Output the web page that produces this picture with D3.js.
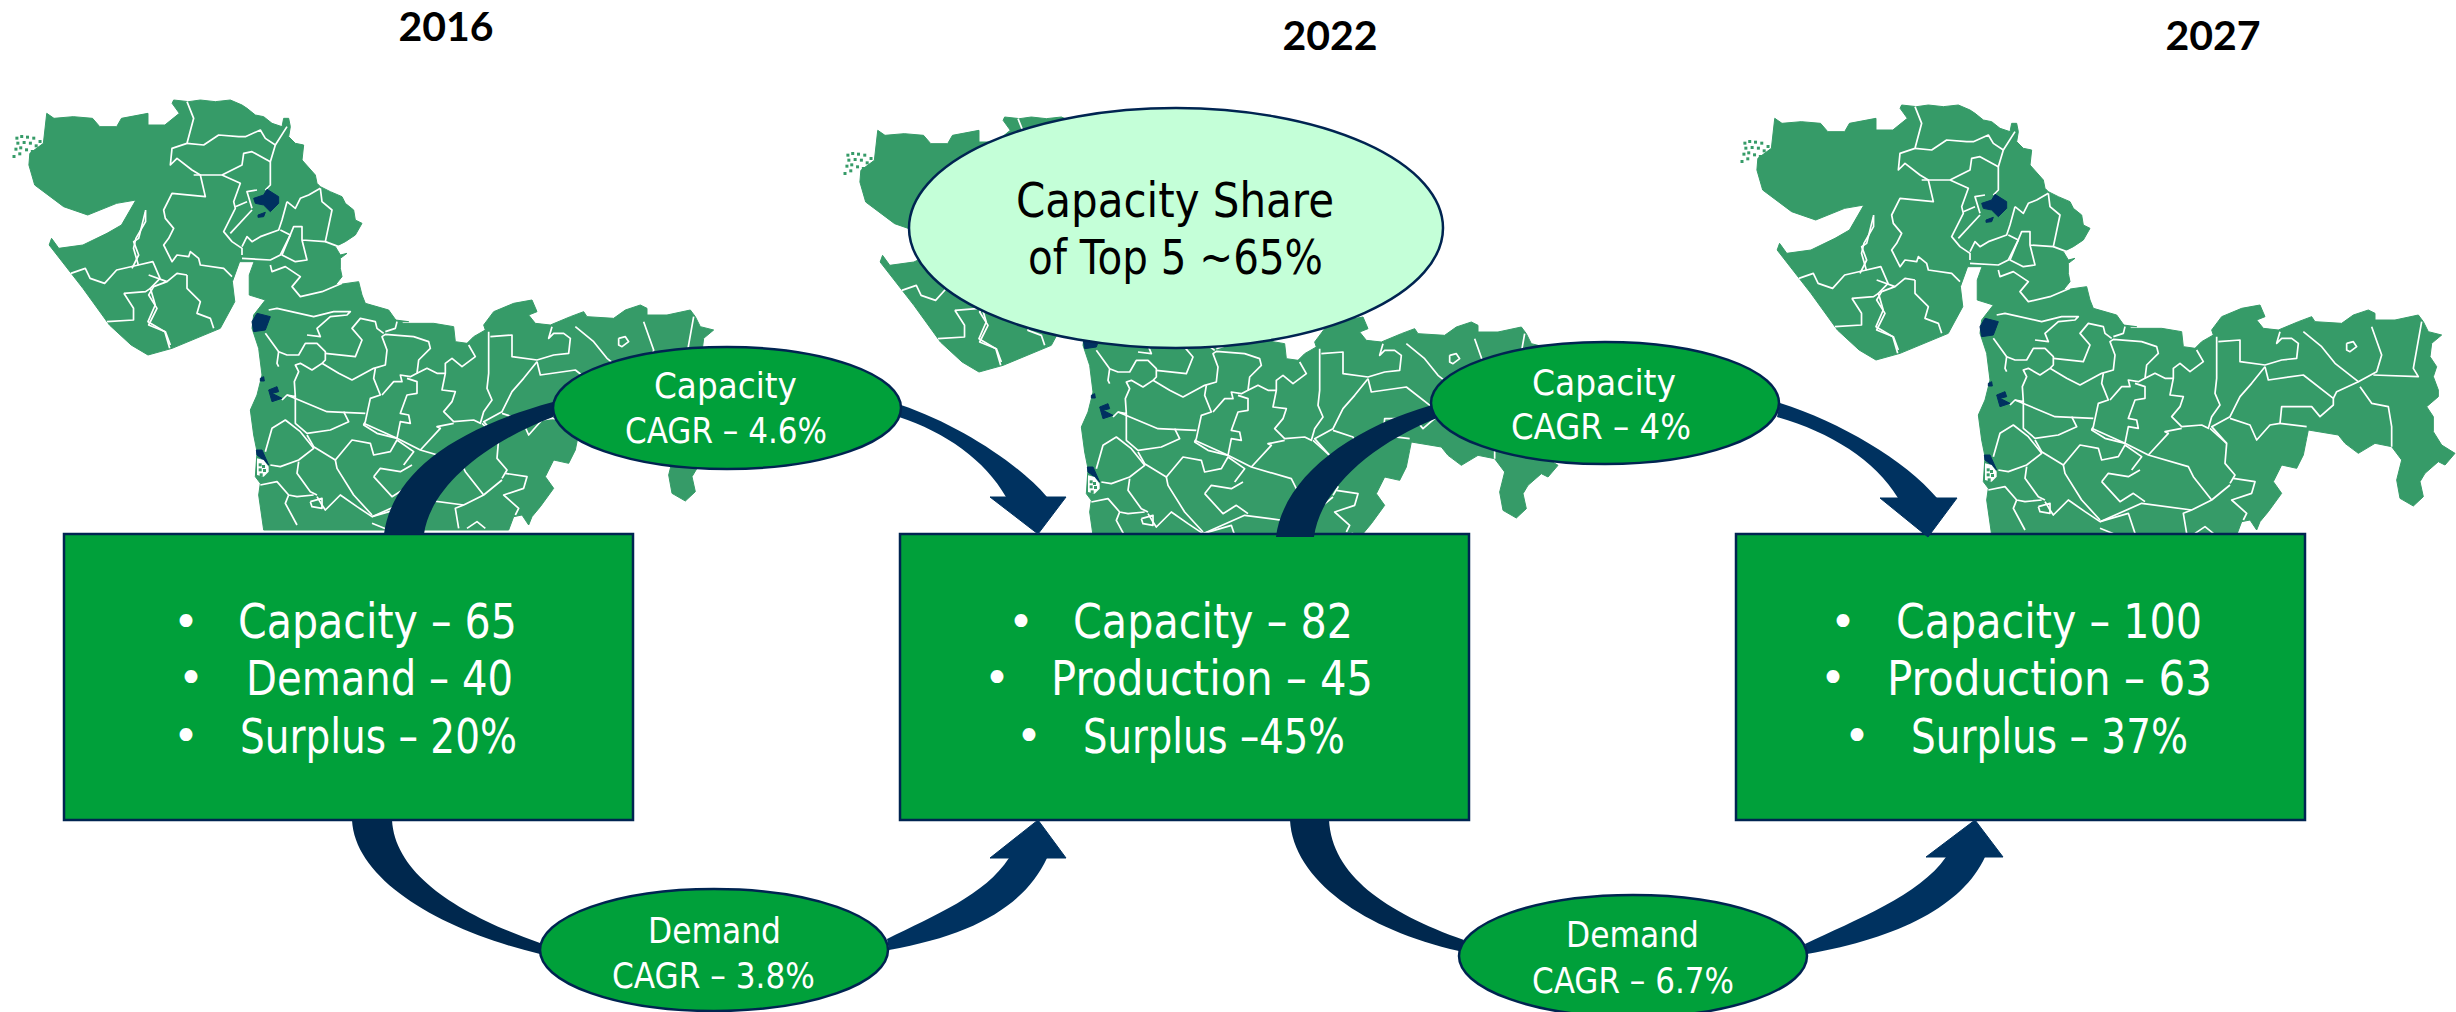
<!DOCTYPE html>
<html>
<head>
<meta charset="utf-8">
<script src="https://cdnjs.cloudflare.com/ajax/libs/d3/7.8.5/d3.min.js"></script>
<style>
  html, body { margin: 0; padding: 0; background: #fff; }
  svg { display: block; }
  text { font-family: "DejaVu Sans", sans-serif; }
</style>
</head>
<body>
<svg width="2456" height="1012"></svg>
<script>
// chart values
var years = ["2016", "2022", "2027"];
var capacity = [65, 82, 100];
var secondName = ["Demand", "Production", "Production"];
var secondValue = [40, 45, 63];
var surplus = ["– 20%", "–45%", "– 37%"];
var capacityCagr = ["4.6%", "4%"];
var demandCagr = ["3.8%", "6.7%"];
var shareNote = ["Capacity Share", "of Top 5 ~65%"];

var outlineN = [[125,15],[170,20],[205,15],[250,20],[295,15],[330,30],[345,40],[370,60],[395,65],[420,85],[450,95],[455,70],[470,70],[475,95],[470,125],[490,145],[515,150],[510,195],[550,240],[555,265],[565,275],[595,290],[630,305],[640,325],[665,345],[670,375],[690,385],[670,420],[640,440],[610,455],[625,480],[645,475],[625,490],[625,520],[630,545],[610,570],[680,560],[690,600],[700,625],[770,645],[795,680],[830,680]];
var outlineE = [[565,75],[590,85],[680,85],[740,95],[745,140],[780,145],[800,125],[835,105],[830,90],[860,50],[920,25],[975,15],[990,50],[965,60],[985,85],[1030,90],[1090,65],[1130,50],[1140,65],[1220,70],[1255,45],[1300,30],[1320,40],[1320,60],[1380,60],[1450,45],[1465,65],[1480,95],[1520,105],[1490,130],[1485,170],[1505,200],[1495,230],[1510,270],[1510,290],[1475,320],[1495,350],[1495,395],[1520,435],[1560,460],[1530,495],[1510,485],[1470,520],[1455,545],[1465,590],[1435,618],[1395,595],[1385,540],[1400,480],[1370,440],[1320,430],[1270,460],[1230,430],[1210,405],[1120,390],[1115,415],[1105,465],[1085,505],[1040,495],[1015,545],[1040,580],[1000,635],[975,665],[965,690],[945,660],[920,665],[905,705],[170,705],[155,600],[160,565],[145,545],[150,470],[140,420],[130,345],[150,300],[165,240],[155,160],[135,100],[140,60],[175,15]];
var outlineW = [[575,660],[575,600],[585,560],[555,560],[540,620],[545,680],[515,760],[415,820],[365,840],[330,810],[285,750],[230,640],[160,510],[165,490],[180,520],[230,510],[280,475],[310,450],[340,375],[300,385],[240,420],[190,395],[130,330],[118,270],[120,235],[148,205],[155,115],[170,130],[210,125],[250,130],[265,155],[300,155],[310,130],[365,115],[365,150],[400,150],[430,115],[415,85]];

var bordersN = [
  [[165,20],[185,70],[165,145],[120,160],[115,210],[135,190],[180,225],[205,240],[220,305],[120,295],[95,345],[100,370],[125,400],[110,430],[95,450],[120,500],[135,480],[170,485],[175,470],[200,490],[205,510],[275,520],[300,545]],
  [[165,145],[215,150],[260,120],[320,125],[340,125],[385,105],[400,130],[430,150],[465,95]],
  [[430,150],[415,200],[415,270],[400,285]],
  [[185,240],[270,240],[330,210],[335,175],[360,170],[415,200]],
  [[270,240],[325,265],[305,320],[310,340],[275,410],[300,440],[330,460],[330,480]],
  [[360,340],[345,290],[375,285]],
  [[310,335],[345,320]],
  [[360,345],[295,415]],
  [[465,320],[450,375],[440,405],[385,425],[360,440],[345,425],[330,455]],
  [[445,405],[475,420],[445,480],[415,495],[330,490]],
  [[565,280],[530,300],[505,310],[490,340],[465,320]],
  [[565,280],[570,320],[600,345],[580,440],[510,435],[510,395],[485,395],[450,480],[490,500],[525,495],[510,435]],
  [[580,440],[620,455]],
  [[415,510],[420,530],[460,515],[505,545],[480,575],[505,605],[570,590],[630,565]],
  [[40,350],[20,430],[5,440],[20,480],[0,520]],
  [[50,540],[105,560],[65,575],[50,600],[75,640],[50,690],[100,710],[115,750]],
  [[165,540],[165,580],[205,620],[195,655],[235,670],[245,700]],
  [[105,560],[135,535],[165,540]]
];

var bordersE = [
  [[185,45],[210,40],[320,65],[380,50],[430,50],[420,60],[370,65],[330,100],[340,125],[300,120]],
  [[175,115],[215,170],[240,180],[275,180],[295,145],[330,145],[355,170],[355,195],[345,205],[315,225],[280,205],[265,210],[275,230],[262,260],[265,305],[240,300],[225,315]],
  [[345,205],[395,235],[435,255],[500,220],[535,210],[540,165],[525,125],[535,118],[620,125],[665,140],[670,160],[635,195],[630,235],[610,245],[580,240],[585,260],[560,260],[525,300]],
  [[535,110],[565,100],[570,80]],
  [[530,115],[510,100],[505,80],[460,70],[435,100],[465,135],[445,185],[355,175]],
  [[215,170],[210,205],[215,215]],
  [[505,220],[500,250],[520,300],[490,310],[475,380],[470,390],[510,415],[570,430],[580,380],[610,385],[605,360],[580,355],[600,300],[630,295],[630,260],[600,250]],
  [[630,235],[660,220],[690,235],[715,235],[715,205],[735,190],[765,215],[805,185],[785,150]],
  [[715,235],[705,285],[745,290],[735,320],[710,350],[740,380],[800,375],[820,385],[830,350],[855,315],[840,280],[845,235],[845,110]],
  [[850,125],[915,120],[915,185],[990,195],[1040,180],[1085,175],[1090,130],[1070,115],[1040,115],[1025,130],[1035,95]],
  [[990,200],[950,250],[915,290],[885,350],[830,380],[875,430],[870,490],[900,525],[885,550]],
  [[895,535],[960,545],[950,580],[890,600],[935,640],[925,660]],
  [[990,200],[1000,240],[1105,225],[1195,295],[1195,315],[1155,350],[1130,320],[1040,320],[1035,370],[1115,380]],
  [[885,355],[945,375],[965,420],[1005,375],[1035,370]],
  [[1105,95],[1160,140],[1200,190],[1270,245],[1325,215],[1340,165],[1310,80]],
  [[1315,225],[1450,230],[1435,205],[1460,65]],
  [[1270,245],[1205,275],[1195,295]],
  [[1275,260],[1310,310],[1360,320],[1370,380],[1370,440]],
  [[240,300],[360,350],[475,355]],
  [[265,305],[265,385],[300,415],[370,405],[425,380],[410,350]],
  [[175,470],[195,400],[235,375],[280,410],[320,460],[275,495],[220,515],[190,510]],
  [[300,420],[320,455],[385,495],[435,435],[490,445],[500,480],[550,470],[570,435],[620,470],[590,510]],
  [[470,385],[570,430],[640,465],[760,500],[775,530],[830,600]],
  [[640,465],[700,400],[690,395],[740,385]],
  [[825,385],[875,430]],
  [[275,500],[270,535],[310,590],[330,600]],
  [[385,495],[390,520],[440,600],[495,660]],
  [[500,545],[520,520],[580,530],[615,510]],
  [[500,545],[555,605],[595,580],[630,605]],
  [[160,570],[210,560],[245,600],[270,605],[320,600]],
  [[245,600],[235,625],[270,690]],
  [[330,605],[345,630],[355,645],[400,600],[450,635],[495,665],[620,610],[770,630],[830,600],[885,555]],
  [[495,665],[580,640],[600,700]],
  [[770,630],[745,640],[755,700]],
  [[495,685],[545,705]],
  [[780,700],[810,680],[835,700]],
  [[1235,130],[1255,125],[1265,140],[1245,155],[1235,150],[1235,130]],
  [[310,620],[345,610],[345,640],[315,635],[310,620]]
];

var bordersW = [
  [[360,405],[360,440],[340,490],[335,520],[345,570],[375,560],[390,610],[370,640],[380,690],[365,740],[400,770],[410,820]],
  [[205,595],[235,580],[245,610],[275,625],[300,585],[345,570]],
  [[315,655],[360,650],[370,640]],
  [[315,655],[335,700],[335,735],[280,740]]
];

var citiesN = [
  [[365,310],[395,300],[405,283],[440,305],[440,325],[415,350],[395,330],[370,325]],
  [[378,360],[400,352],[395,365],[378,367]]
];
var citiesE = [
  [[135,80],[150,55],[190,65],[175,105],[140,110]],
  [[185,285],[210,275],[215,290],[195,295],[225,310],[195,320]],
  [[148,465],[165,465],[185,510],[170,495],[150,480]],
  [[160,250],[170,245],[172,258],[160,258]]
];
var coastGapE = [[150,490],[170,495],[185,515],[185,530],[170,545],[150,540]];

var mapFlecks = [[90,185],[100,180],[112,182],[125,185],[138,195],[92,200],[105,198],[118,200],[130,208],[88,218],[98,214],[110,220],[122,225],[84,240],[96,232]];
var gapFlecks = [[155,505],[165,510],[155,520],[168,522],[158,535]];

// layout
var boxLeft = d3.scalePoint().domain(years).range([64, 1736]);
var boxWidth = 569, boxTop = 534, boxBottom = 820;
var mapOrigin = [[-1728, -5], [-897, 12], [0, 0]];
var yearX = [446, 1330, 2213];
var yearBase = [41, 50, 50];

var lineBase = [638, 695, 753];
var bulletY = [621, 677, 735];
var bulletX = [[186, 191, 186], [1021, 997, 1029], [1843, 1833, 1857]];
var lineSpan = [
  [[238, 517], [246, 513], [240, 517]],
  [[1073, 1353], [1051, 1373], [1083, 1345]],
  [[1896, 2202], [1887, 2212], [1911, 2188]]
];

var topEllipses = [{cx: 727, cy: 408}, {cx: 1605, cy: 403}];
var bottomEllipses = [{cx: 714, cy: 950}, {cx: 1633, cy: 956}];
var ellipseRx = 174, ellipseRy = 61;
var topSpans = [[[654, 797], [625, 827]], [[1532, 1676], [1511, 1691]]];
var topBases = [[398, 443], [395, 439]];
var bottomSpans = [[[648, 781], [612, 815]], [[1566, 1699], [1532, 1734]]];
var bottomBases = [[943, 988], [947, 993]];

// curved arrows: two cubic edges and, for the head ones, the tip triangle
var arrowTails = [
  [[384,534],[392,475],[450,430],[553,402], [553,417],[480,445],[430,490],[424,534]],
  [[1276,537],[1283,480],[1345,430],[1432,405], [1437,418],[1370,445],[1320,490],[1314,537]],
  [[352,820],[355,880],[440,930],[540,954], [540,943],[460,915],[395,875],[392,820]],
  [[1290,820],[1293,880],[1365,930],[1459,951], [1464,940],[1385,912],[1332,875],[1329,820]]
];
var arrowHeads = [
  {edge: [[901,405],[960,425],[1020,465],[1047,497], [1006,497],[985,460],[945,432],[899,417]], tip: [[990,497],[1038,534],[1066,497]]},
  {edge: [[1780,403],[1840,422],[1905,460],[1937,498], [1898,498],[1875,460],[1830,432],[1777,417]], tip: [[1880,498],[1928,537],[1957,498]]},
  {edge: [[887,939],[935,915],[985,895],[1009,858], [1047,858],[1025,905],[975,935],[889,950]], tip: [[990,858],[1038,820],[1066,858]]},
  {edge: [[1805,944],[1855,920],[1920,895],[1946,857], [1985,857],[1963,905],[1900,938],[1807,954]], tip: [[1926,857],[1975,820],[2003,857]]}
];

var green = "#00a03a", mapGreen = "#369b68", navy = "#002451";

var svg = d3.select("svg");

function cropScale(x0, kx, y0, ky) {
  var sx = d3.scaleLinear().domain([0, kx]).range([x0, x0 + 1]);
  var sy = d3.scaleLinear().domain([0, ky]).range([y0, y0 + 1]);
  return function(p) { return [sx(p[0]), sy(p[1])]; };
}
var fromN = cropScale(1860, 3, 100, 3);
var fromE = cropScale(1935, 3, 300, 3);
var fromW = cropScale(1700, 2.074, 80, 3);

var mapOutline = outlineN.map(fromN).concat(outlineE.map(fromE), outlineW.map(fromW));
var mapBorders = bordersN.map(function(l) { return l.map(fromN); })
  .concat(bordersE.map(function(l) { return l.map(fromE); }),
          bordersW.map(function(l) { return l.map(fromW); }));
var mapCities = citiesN.map(function(l) { return l.map(fromN); })
  .concat(citiesE.map(function(l) { return l.map(fromE); }));
var mapLine = d3.line();

// three copies of the map, the boxes and ellipses sit on top of them
var maps = svg.selectAll(".map")
  .data(mapOrigin)
  .enter().append("g")
    .attr("class", "map")
    .attr("transform", function(d) { return "translate(" + d[0] + "," + d[1] + ")"; });

maps.append("path")
  .attr("d", mapLine(mapOutline) + "Z")
  .attr("fill", mapGreen)
  .attr("stroke", mapGreen)
  .attr("stroke-width", 1);

maps.selectAll(".border")
  .data(mapBorders)
  .enter().append("path")
    .attr("class", "border")
    .attr("d", function(d) { return mapLine(d); })
    .attr("fill", "none")
    .attr("stroke", "#fff")
    .attr("stroke-width", 1.7)
    .attr("stroke-linejoin", "round");

maps.selectAll(".city")
  .data(mapCities)
  .enter().append("path")
    .attr("class", "city")
    .attr("d", function(d) { return mapLine(d) + "Z"; })
    .attr("fill", "#003060")
    .attr("stroke", "#003060");

maps.append("path")
  .attr("d", mapLine(coastGapE.map(fromE)) + "Z")
  .attr("fill", "#fff");

maps.selectAll(".fleck")
  .data(mapFlecks.map(fromW).concat(gapFlecks.map(fromE)))
  .enter().append("rect")
    .attr("class", "fleck")
    .attr("x", function(d) { return d[0]; })
    .attr("y", function(d) { return d[1]; })
    .attr("width", 3)
    .attr("height", 3)
    .attr("fill", mapGreen);

svg.selectAll(".box")
  .data(years)
  .enter().append("rect")
    .attr("class", "box")
    .attr("x", function(d) { return boxLeft(d); })
    .attr("y", boxTop)
    .attr("width", boxWidth)
    .attr("height", boxBottom - boxTop)
    .attr("fill", green)
    .attr("stroke", navy)
    .attr("stroke-width", 2.5);

function edgePath(p) {
  var path = d3.path();
  path.moveTo(p[0][0], p[0][1]);
  path.bezierCurveTo(p[1][0], p[1][1], p[2][0], p[2][1], p[3][0], p[3][1]);
  path.lineTo(p[4][0], p[4][1]);
  path.bezierCurveTo(p[5][0], p[5][1], p[6][0], p[6][1], p[7][0], p[7][1]);
  path.closePath();
  return path.toString();
}

svg.selectAll(".tail")
  .data(arrowTails)
  .enter().append("path")
    .attr("class", "tail")
    .attr("d", edgePath)
    .attr("fill", "#00284e");

svg.selectAll(".shaft")
  .data(arrowHeads)
  .enter().append("path")
    .attr("class", "shaft")
    .attr("d", function(d) { return edgePath(d.edge); })
    .attr("fill", "#003260");

svg.selectAll(".tip")
  .data(arrowHeads)
  .enter().append("path")
    .attr("class", "tip")
    .attr("d", function(d) { return "M" + d.tip.join("L") + "Z"; })
    .attr("fill", "#003260")
    .attr("stroke", "#003260")
    .attr("stroke-width", 1);

function addEllipse(cx, cy, rx, ry, fill) {
  svg.append("ellipse")
    .attr("cx", cx).attr("cy", cy)
    .attr("rx", rx).attr("ry", ry)
    .attr("fill", fill)
    .attr("stroke", navy)
    .attr("stroke-width", 2.5);
}

// text squeezed to the measured width, the source font is narrower than ours
function addLabel(str, span, base, size, color) {
  svg.append("text")
    .attr("x", span[0])
    .attr("y", base)
    .attr("font-size", size)
    .attr("fill", color)
    .attr("textLength", span[1] - span[0])
    .attr("lengthAdjust", "spacingAndGlyphs")
    .text(str);
}

topEllipses.forEach(function(e, i) {
  addEllipse(e.cx, e.cy, ellipseRx, ellipseRy, green);
  addLabel("Capacity", topSpans[i][0], topBases[i][0], 35, "#fff");
  addLabel("CAGR – " + capacityCagr[i], topSpans[i][1], topBases[i][1], 35, "#fff");
});

bottomEllipses.forEach(function(e, i) {
  addEllipse(e.cx, e.cy, ellipseRx, ellipseRy, green);
  addLabel("Demand", bottomSpans[i][0], bottomBases[i][0], 35, "#fff");
  addLabel("CAGR – " + demandCagr[i], bottomSpans[i][1], bottomBases[i][1], 35, "#fff");
});

addEllipse(1176, 228, 267, 120, "#c4ffd8");
addLabel(shareNote[0], [1016, 1334], 217, 48, "#000");
addLabel(shareNote[1], [1028, 1323], 274, 48, "#000");

years.forEach(function(y, i) {
  svg.append("text")
    .attr("x", yearX[i])
    .attr("y", yearBase[i])
    .attr("text-anchor", "middle")
    .attr("font-size", 41)
    .attr("font-weight", "bold")
    .style("font-family", "Lato, sans-serif")
    .attr("fill", "#000")
    .text(y);

  var lines = [
    "Capacity – " + capacity[i],
    secondName[i] + " – " + secondValue[i],
    "Surplus " + surplus[i]
  ];
  lines.forEach(function(str, j) {
    addLabel(str, lineSpan[i][j], lineBase[j], 48, "#fff");
    svg.append("text")
      .attr("x", bulletX[i][j])
      .attr("y", bulletY[j])
      .attr("text-anchor", "middle")
      .attr("dominant-baseline", "central")
      .attr("font-size", 44)
      .attr("fill", "#fff")
      .text("•");
  });
});
</script>
</body>
</html>
